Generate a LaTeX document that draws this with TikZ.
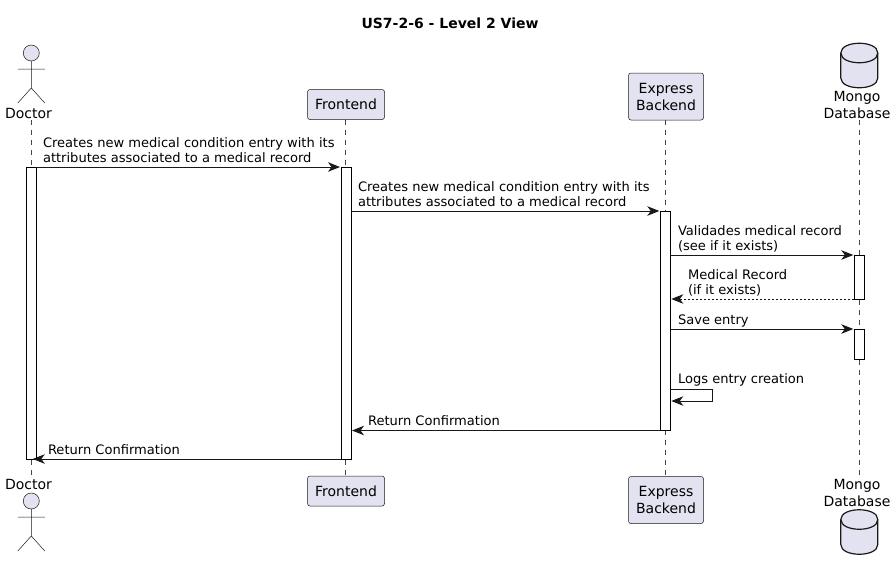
\documentclass[tikz,border=0pt]{standalone}
\usepackage{fontspec}
\setmainfont{DejaVu Sans}
\usetikzlibrary{arrows.meta,backgrounds}
\definecolor{pfill}{HTML}{E2E2F0}
\definecolor{pline}{HTML}{181818}
\tikzset{
  lbl/.style={font=\fontsize{13.05}{15}\selectfont,text=black,inner sep=0pt,outer sep=0pt,align=left,anchor=base west},
  partname/.style={font=\fontsize{14}{17}\selectfont,text=black,inner sep=0pt,outer sep=0pt,align=center},
  partbox/.style={draw=pline,line width=.5pt,fill=pfill,rounded corners=2.5pt,inner sep=0pt,outer sep=0pt,align=center,font=\fontsize{14}{17}\selectfont,text=black},
  activ/.style={draw=black,line width=1pt,fill=white,minimum width=10pt,inner sep=0pt,outer sep=0pt,anchor=north},
  life/.style={draw=pline!80,line width=.5pt,dash pattern=on 5pt off 5pt},
  msg/.style={draw=pline,line width=1pt,-{Stealth[length=12pt,width=9.5pt,inset=3.5pt]}},
  ret/.style={msg,dash pattern=on 2pt off 2pt},
  actor/.style={draw=pline,line width=.5pt},
  dbshape/.style={draw=black!90,line width=1.2pt,fill=pfill}
}
\newcommand{\actorat}[2]{% x, head centre y
  \draw[actor,fill=pfill] (#1,#2) circle (8pt);
  \draw[actor] (#1,#2+8) -- (#1,#2+35) (#1-13.5,#2+16) -- (#1+13.5,#2+16)
     (#1-13.5,#2+50) -- (#1,#2+35) -- (#1+13.5,#2+50);
}
\newcommand{\dbat}[2]{% centre x, top y
  \draw[dbshape] (#1-18.5,#2+10) .. controls (#1-18.5,#2-3) and (#1+18.5,#2-3) .. (#1+18.5,#2+10)
     -- (#1+18.5,#2+35) .. controls (#1+18.5,#2+48) and (#1-18.5,#2+48) .. (#1-18.5,#2+35) -- cycle;
  \draw[dbshape,fill=none] (#1-18.5,#2+10) .. controls (#1-18.5,#2+23) and (#1+18.5,#2+23) .. (#1+18.5,#2+10);
}
\begin{document}
\begin{tikzpicture}[x=1pt,y=-1pt]
\useasboundingbox (0,0) rectangle (896,571);
\node[font=\fontsize{14}{17}\selectfont\bfseries,inner sep=0pt] (title) at (450,23) {US7-2-6 - Level 2 View};

% actors and databases
\actorat{31.3}{53}
\actorat{31.3}{501}
\dbat{859.3}{43}
\dbat{859.3}{509.5}

% participant labels and boxes
\node[partname] (doctorT) at (28.5,113) {Doctor};
\node[partname] (doctorB) at (28.5,484) {Doctor};
\node[partbox,minimum width=77pt,minimum height=30pt] (frontT) at (346,104.5) {Frontend};
\node[partbox,minimum width=77pt,minimum height=30pt] (frontB) at (346,491) {Frontend};
\node[partbox,minimum width=75pt,minimum height=47pt] (backT) at (666,96.5) {Express\\Backend};
\node[partbox,minimum width=75pt,minimum height=47pt] (backB) at (666,500) {Express\\Backend};
\node[partname] (mongoT) at (857,104.5) {Mongo\\Database};
\node[partname] (mongoB) at (857,493) {Mongo\\Database};

% lifeline ends
\coordinate (d1) at (31.3,120);
\coordinate (d2) at (31.3,475);
\coordinate (f1) at (345.5,119.5);
\coordinate (b1) at (665.3,119.5);
\coordinate (m1) at (859.3,120);
\coordinate (m2) at (859.3,475);

% activations
\node[activ,minimum height=292pt] (aD) at (31.3,167) {};
\node[activ,minimum height=292pt] (aF) at (346,167) {};
\node[activ,minimum height=219.5pt] (aB) at (665.3,211) {};
\node[activ,minimum height=44pt] (aM1) at (859.3,255) {};
\node[activ,minimum height=30pt] (aM2) at (859.3,329) {};

\begin{scope}[on background layer]
  \draw[life] (d1) -- (d2);
  \draw[life] (f1) -- (frontB.north -| f1);
  \draw[life] (b1) -- (backB.north -| b1);
  \draw[life] (m1) -- (m2);
\end{scope}

% messages
\draw[msg] (aD.north east) -- ([xshift=-1pt]aF.north west);
\node[lbl] (t1) at (43,162) {Creates new medical condition entry with its\\attributes associated to a medical record};

\coordinate (m2s) at (aF.east |- 0,211);
\draw[msg] (m2s) -- ([xshift=-1pt]aB.north west);
\node[lbl] (t2) at (358,206) {Creates new medical condition entry with its\\attributes associated to a medical record};

\coordinate (m3s) at (aB.east |- 0,255);
\draw[msg] (m3s) -- ([xshift=-1pt]aM1.north west);
\node[lbl] (t3) at (678,250) {Validades medical record\\(see if it exists)};

\coordinate (m4e) at (aB.east |- 0,299);
\draw[ret] (aM1.south west) -- ([xshift=1pt]m4e);
\node[lbl] (t4) at (688,294) {Medical Record\\(if it exists)};

\coordinate (m5s) at (aB.east |- 0,329);
\draw[msg] (m5s) -- ([xshift=-1pt]aM2.north west);
\node[lbl] (t5) at (678,324) {Save entry};

\coordinate (m6s) at (aB.east |- 0,389);
\coordinate (m6e) at (aB.east |- 0,401);
\draw[msg] (m6s) -- (712.5,389) -- (712.5,401) -- ([xshift=1pt]m6e);
\node[lbl] (t6) at (678,383.5) {Logs entry creation};

\draw[msg] (aB.south west) -- ([xshift=1pt]aB.south west -| aF.east);
\node[lbl] (t7) at (368,425.5) {Return Confirmation};

\draw[msg] (aF.south west) -- ([xshift=-3.5pt]aD.south east);
\node[lbl] (t8) at (48,454.5) {Return Confirmation};
\end{tikzpicture}
\end{document}
